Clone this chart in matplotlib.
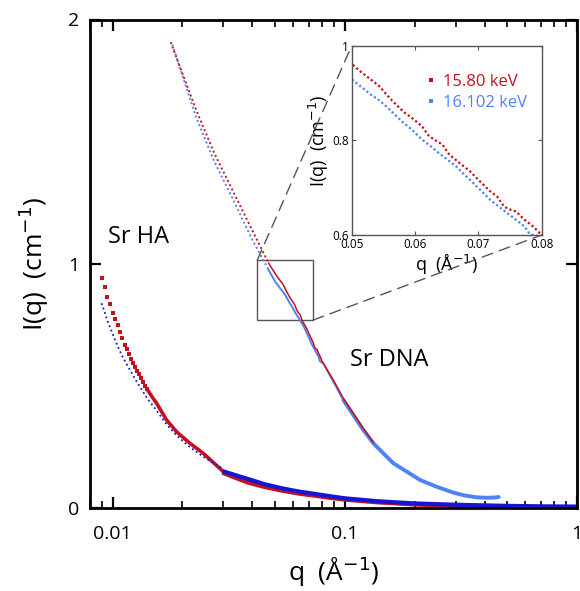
import matplotlib
matplotlib.use("Agg")
import matplotlib.pyplot as plt
from matplotlib.patches import Rectangle, ConnectionPatch
from matplotlib.lines import Line2D
import numpy as np

plt.rcParams['font.family'] = ['Open Sans', 'DejaVu Sans']
plt.rcParams['mathtext.fontset'] = 'dejavusans'

red = '#c3121b'
light_blue = '#4f82f5'
dark_blue = '#1515d2'

# Sr DNA, 15.80 keV
dna_red_q = [0.0178, 0.0229, 0.0274, 0.0328, 0.0399, 0.047,
             0.05027, 0.05124, 0.05297, 0.05432, 0.05595, 0.05676, 0.05838, 0.05946,
             0.06108, 0.06216, 0.06297, 0.06432, 0.06541, 0.06703, 0.06865, 0.07027,
             0.07189, 0.07297, 0.07405, 0.07514, 0.07595, 0.0773, 0.07865, 0.08,
             0.0893, 0.0986, 0.1089, 0.1203, 0.1328]
dna_red_I = [1.907, 1.631, 1.454, 1.303, 1.139, 1.003,
             0.959, 0.947, 0.929, 0.915, 0.890, 0.879, 0.858, 0.848,
             0.830, 0.810, 0.802, 0.791, 0.770, 0.752, 0.735, 0.713,
             0.692, 0.681, 0.660, 0.653, 0.650, 0.632, 0.618, 0.600,
             0.525, 0.450, 0.388, 0.326, 0.270]

# Sr DNA, 16.102 keV
dna_blue_q = [0.0181, 0.0229, 0.0274, 0.0328, 0.0399, 0.047,
              0.05027, 0.05162, 0.05297, 0.05432, 0.05568, 0.05676, 0.05784, 0.05946,
              0.06108, 0.06243, 0.06378, 0.06514, 0.06649, 0.06784, 0.06919, 0.07054,
              0.07189, 0.07324, 0.07459, 0.07595, 0.0773, 0.07811,
              0.0809, 0.0893, 0.0986, 0.1089, 0.1203, 0.1328, 0.1466, 0.162, 0.185,
              0.211, 0.249, 0.294, 0.33, 0.37, 0.41, 0.44, 0.46]
dna_blue_I = [1.897, 1.600, 1.420, 1.270, 1.100, 0.975,
              0.926, 0.912, 0.897, 0.885, 0.869, 0.855, 0.841, 0.823,
              0.802, 0.788, 0.773, 0.759, 0.745, 0.727, 0.710, 0.692,
              0.674, 0.660, 0.646, 0.632, 0.618, 0.602,
              0.593, 0.518, 0.443, 0.382, 0.320, 0.266, 0.225, 0.184, 0.150,
              0.116, 0.088, 0.064, 0.052, 0.045, 0.043, 0.044, 0.046]

# Sr HA, 15.80 keV (low-q points, then the dense high-q set)
ha_red_q = [0.00897, 0.00924, 0.00948, 0.00973, 0.0100, 0.01023, 0.01051, 0.01079,
            0.0110, 0.0113, 0.01156, 0.0118, 0.01203, 0.01227, 0.01251, 0.01276,
            0.01302, 0.01328, 0.01355, 0.01383, 0.0141,
            0.01473, 0.01548, 0.0171, 0.01888, 0.02155, 0.02459, 0.0300]
ha_red_I = [0.944, 0.904, 0.866, 0.837, 0.798, 0.775, 0.750, 0.723,
            0.696, 0.668, 0.652, 0.631, 0.612, 0.593, 0.577, 0.562,
            0.548, 0.532, 0.516, 0.500, 0.487,
            0.459, 0.430, 0.361, 0.313, 0.266, 0.225, 0.150]
ha_red_hq = [0.0303, 0.0345, 0.0386, 0.045, 0.0536, 0.063, 0.0743, 0.087, 0.1,
             0.138, 0.2, 0.27, 0.333, 0.5, 0.7, 1.0]
ha_red_hI = [0.143, 0.122, 0.105, 0.088, 0.073, 0.061, 0.052, 0.043, 0.036,
             0.025, 0.016, 0.012, 0.010, 0.007, 0.005, 0.004]

# Sr HA, 16.102 keV
ha_blue_q = [0.00897, 0.00924, 0.00948, 0.00973, 0.01006, 0.01051, 0.0110, 0.01152,
             0.01207, 0.01264, 0.01328, 0.0141, 0.01548, 0.0171, 0.01888, 0.02155,
             0.02459, 0.0295]
ha_blue_I = [0.839, 0.804, 0.770, 0.743, 0.709, 0.664, 0.624, 0.589,
             0.555, 0.522, 0.490, 0.450, 0.400, 0.343, 0.298, 0.250,
             0.211, 0.165]
ha_blue_hq = [0.0303, 0.0345, 0.0386, 0.045, 0.0536, 0.063, 0.0743, 0.087, 0.1,
              0.138, 0.2, 0.27, 0.333, 0.5, 0.7, 1.0]
ha_blue_hI = [0.150, 0.133, 0.119, 0.099, 0.082, 0.069, 0.059, 0.049, 0.041,
              0.029, 0.020, 0.016, 0.0135, 0.010, 0.008, 0.007]

# zoom box drawn on the main panel
box_q = [0.042, 0.073]
box_I = [0.77, 1.015]

fig = plt.figure(figsize=(5.8, 5.91), dpi=100)
ax = fig.add_axes([90 / 580, (591 - 508.3) / 591, 487 / 580, 488.8 / 591])

dna_red_q = np.array(dna_red_q); dna_red_I = np.array(dna_red_I)
dna_blue_q = np.array(dna_blue_q); dna_blue_I = np.array(dna_blue_I)

# DNA: sparse dotted points at low q, near-solid beyond
lo = dna_blue_q <= 0.047
ax.plot(dna_blue_q[lo], dna_blue_I[lo], color=light_blue, lw=1.4, ls=(0, (1, 1.4)))
mid = (dna_blue_q >= 0.047) & (dna_blue_q <= 0.0986)
ax.plot(dna_blue_q[mid], dna_blue_I[mid], color=light_blue, lw=1.4)
ax.plot(dna_blue_q[dna_blue_q >= 0.0986], dna_blue_I[dna_blue_q >= 0.0986],
        color=light_blue, lw=2.8, solid_capstyle='round', solid_joinstyle='round')
lo = dna_red_q <= 0.047
ax.plot(dna_red_q[lo], dna_red_I[lo], color=red, lw=1.4, ls=(0, (1, 1.4)))
ax.plot(dna_red_q[dna_red_q >= 0.047], dna_red_I[dna_red_q >= 0.047], color=red, lw=1.1)

# HA
ax.plot(ha_red_q[:21], ha_red_I[:21], 's', color=red, ms=2.6, mew=0)
ax.plot(ha_red_q[20:], ha_red_I[20:], color=red, lw=2.6)
ax.plot(ha_red_hq, ha_red_hI, color=red, lw=3.2, solid_joinstyle='round')
ax.plot(ha_blue_q, ha_blue_I, color=dark_blue, lw=1.3, ls=(0, (1, 1.6)))
ax.plot(ha_blue_hq, ha_blue_hI, color=dark_blue, lw=3.0, solid_joinstyle='round')

ax.set_xscale('log')
ax.set_xlim(0.008, 1.0)
ax.set_ylim(0, 2)
ax.set_yticks([0, 1, 2])
ax.set_xticks([0.01, 0.1, 1])
ax.set_xticklabels(['0.01', '0.1', '1'])
ax.tick_params(which='both', direction='in', top=True, right=True, labelsize=14)
ax.tick_params(which='major', length=8, width=1.6)
ax.tick_params(axis='x', which='major', pad=12)
ax.tick_params(axis='y', which='major', pad=8)
ax.tick_params(which='minor', length=5, width=1.2)
ax.tick_params(axis='y', which='minor', left=False, right=False)
for s in ax.spines.values():
    s.set_linewidth(2)

ax.set_xlabel(r'q  (Å$^{-1}$)', fontsize=19, labelpad=8)
ax.set_ylabel(r'I(q)  (cm$^{-1}$)', fontsize=19, labelpad=12)

ax.text(0.00954, 1.11, 'Sr HA', fontsize=17, va='center', ha='left')
ax.text(0.1052, 0.607, 'Sr DNA', fontsize=17, va='center', ha='left')

ax.add_patch(Rectangle((box_q[0], box_I[0]), box_q[1] - box_q[0], box_I[1] - box_I[0],
                       fill=False, ec='#555555', lw=1))

# inset
ax_in = fig.add_axes([351.7 / 580, (591 - 235) / 591, 190 / 580, 189.3 / 591])
ax_in.plot(dna_red_q, dna_red_I, color=red, lw=1.6, ls=(0, (1, 1.1)))
ax_in.plot(dna_blue_q, dna_blue_I, color=light_blue, lw=1.6, ls=(0, (1, 1.1)))
ax_in.set_xlim(0.05, 0.08)
ax_in.set_ylim(0.6, 1.0)
ax_in.set_xticks([0.05, 0.06, 0.07, 0.08])
ax_in.set_xticklabels(['0.05', '0.06', '0.07', '0.08'])
ax_in.set_yticks([0.6, 0.8, 1.0])
ax_in.set_yticklabels(['0.6', '0.8', '1'])
ax_in.tick_params(direction='in', top=True, right=True, length=3, width=0.8,
                  color='#555555', labelsize=8.5, pad=2)
for s in ax_in.spines.values():
    s.set_color('#555555')
    s.set_linewidth(1)
ax_in.set_xlabel(r'q  (Å$^{-1}$)', fontsize=13, labelpad=0)
ax_in.set_ylabel(r'I(q)  (cm$^{-1}$)', fontsize=13, labelpad=1)

handles = [Line2D([], [], ls='none', marker='s', ms=2.2, mew=0, color=red),
           Line2D([], [], ls='none', marker='s', ms=2.2, mew=0, color=light_blue)]
leg = ax_in.legend(handles, ['15.80 keV', '16.102 keV'], loc='upper right',
                   frameon=False, fontsize=12, handlelength=0.4, handletextpad=0.5,
                   labelspacing=0.3, bbox_to_anchor=(1.0, 0.93))
for t, c in zip(leg.get_texts(), [red, light_blue]):
    t.set_color(c)

for xyA, xyB in [((box_q[0], box_I[1]), (0, 1)), ((box_q[1], box_I[0]), (1, 0))]:
    con = ConnectionPatch(xyA=xyA, coordsA=ax.transData, xyB=xyB, coordsB=ax_in.transAxes,
                          color='#555555', lw=1, ls=(0, (8, 5)))
    fig.add_artist(con)

fig.savefig('out.png', dpi=100)
